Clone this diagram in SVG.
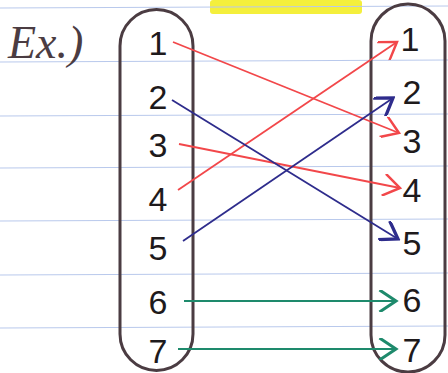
<svg xmlns="http://www.w3.org/2000/svg" width="448" height="373" viewBox="0 0 448 373">
<style>
.rule{stroke:#b9c9ec;stroke-width:1.2}
.cap{fill:none;stroke:#4b3c42;stroke-width:3}
.lbl{font-family:"Liberation Sans",Arial,sans-serif;font-size:34px;fill:#1e1a1c;text-anchor:middle}
.red{stroke:#f2474a;stroke-width:1.8;fill:none}
.blue{stroke:#2e2c8c;stroke-width:1.8;fill:none}
.green{stroke:#1e8a6c;stroke-width:2.2;fill:none}
</style>
<defs>
<marker id="ar" markerUnits="userSpaceOnUse" markerWidth="22" markerHeight="22" refX="14" refY="8" orient="auto" viewBox="0 0 16 16"><path d="M2,0 L14,8 L2,16" fill="none" stroke="#f2474a" stroke-width="1.8"/></marker>
<marker id="ab" markerUnits="userSpaceOnUse" markerWidth="22" markerHeight="22" refX="14" refY="8" orient="auto" viewBox="0 0 16 16"><path d="M2,0 L14,8 L2,16" fill="none" stroke="#2e2c8c" stroke-width="2.4"/></marker>
<marker id="ag" markerUnits="userSpaceOnUse" markerWidth="22" markerHeight="22" refX="14" refY="8" orient="auto" viewBox="0 0 16 16"><path d="M2,0 L14,8 L2,16" fill="none" stroke="#1e8a6c" stroke-width="2.2"/></marker>
</defs>
<rect width="448" height="373" fill="#ffffff"/>
<g id="paper">
<rect x="210" y="0" width="152" height="14" rx="3" fill="#f4ef3c"/>
<line class="rule" x1="0" y1="8" x2="448" y2="6"/>
<line class="rule" x1="0" y1="62" x2="448" y2="60"/>
<line class="rule" x1="0" y1="116" x2="448" y2="114"/>
<line class="rule" x1="0" y1="168" x2="448" y2="166"/>
<line class="rule" x1="0" y1="221" x2="448" y2="219"/>
<line class="rule" x1="0" y1="275" x2="448" y2="273"/>
<line class="rule" x1="0" y1="328" x2="448" y2="326"/>
<text x="8" y="58" style="font-family:'Liberation Serif',serif;font-size:46px;font-style:italic;fill:#4b3c42">Ex.)</text>
</g>
<g id="domain">
<path class="cap" d="M120,334 L120,46 A36.5,36.5 0 0 1 193,46 L193,334 A36.5,36.5 0 0 1 120,334 Z"/>
<text class="lbl" x="158" y="55">1</text>
<text class="lbl" x="158" y="109">2</text>
<text class="lbl" x="158" y="157">3</text>
<text class="lbl" x="158" y="211">4</text>
<text class="lbl" x="158" y="260">5</text>
<text class="lbl" x="158" y="314">6</text>
<text class="lbl" x="158" y="363">7</text>
</g>
<g id="codomain">
<path class="cap" d="M371,335 L371,41 A37,37 0 0 1 445,41 L445,335 A37,37 0 0 1 371,335 Z"/>
<text class="lbl" x="410" y="51">1</text>
<text class="lbl" x="412" y="104">2</text>
<text class="lbl" x="412" y="153">3</text>
<text class="lbl" x="412" y="202">4</text>
<text class="lbl" x="412" y="255">5</text>
<text class="lbl" x="412" y="312">6</text>
<text class="lbl" x="412" y="362">7</text>
</g>
<g id="connectors">
<line class="red" x1="173" y1="42" x2="399" y2="133" marker-end="url(#ar)"/>
<line class="red" x1="179" y1="144" x2="400" y2="188" marker-end="url(#ar)"/>
<line class="red" x1="178" y1="190" x2="397" y2="42" marker-end="url(#ar)"/>
<line class="blue" x1="172" y1="100" x2="398" y2="239" marker-end="url(#ab)"/>
<line class="blue" x1="183" y1="241" x2="393" y2="98" marker-end="url(#ab)"/>
<line class="green" x1="184" y1="301" x2="396" y2="301" marker-end="url(#ag)"/>
<line class="green" x1="178" y1="349" x2="396" y2="349" marker-end="url(#ag)"/>
</g>
</svg>
